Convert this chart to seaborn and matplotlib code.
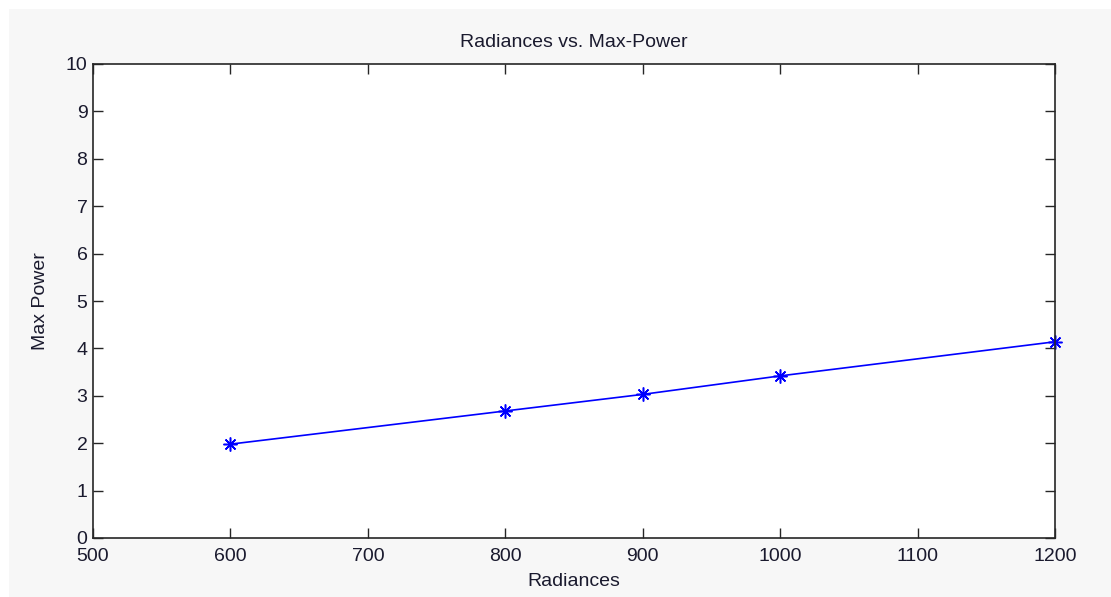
import numpy as np
import pandas as pd
import matplotlib
matplotlib.use("Agg")
import matplotlib.pyplot as plt
import seaborn as sb
from matplotlib.patches import Rectangle

radiances = [600, 800, 900, 1000, 1200]
max_power = [1.98, 2.68, 3.03, 3.42, 4.14]
x_ticks = [500, 600, 700, 800, 900, 1000, 1100, 1200]
y_ticks = list(range(0, 11))

sb.set_style("ticks")
plt.rcParams["font.family"] = ["Liberation Sans", "DejaVu Sans"]

t = pd.DataFrame({"Radiances": radiances, "Max Power": max_power})

fig = plt.figure(figsize=(11.11, 5.97), dpi=100, facecolor="white")
# grey panel like the matlab figure window
fig.patches.append(Rectangle((9 / 1111, 0), 1, 1 - 9 / 597, transform=fig.transFigure,
                             facecolor="#f7f7f7", edgecolor="none", zorder=-1))
ax = fig.add_axes([93 / 1111, 1 - 538 / 597, (1055 - 93) / 1111, (538 - 64) / 597])
ax.set_facecolor("white")

sb.lineplot(data=t, x="Radiances", y="Max Power", ax=ax, color="#0000ff",
            linewidth=1.2, marker=(8, 2, 0), markersize=10,
            markeredgecolor="#0000ff", markeredgewidth=1.1, clip_on=False)

ax.set_xlim(500, 1200)
ax.set_ylim(0, 10)
ax.set_xticks(x_ticks)
ax.set_yticks(y_ticks)
ax.tick_params(direction="in", length=7, width=1, top=True, right=True,
               labelsize=14, colors="#262626", labelcolor="#1a1a2e")
ax.tick_params(axis="x", pad=7)
ax.tick_params(axis="y", pad=4)
for s in ax.spines.values():
    s.set_visible(True)
    s.set_color("#262626")
    s.set_linewidth(1.2)

ax.set_title("Radiances vs. Max-Power", fontsize=14, color="#1a1a2e", pad=12)
ax.set_xlabel("Radiances", fontsize=14, color="#1a1a2e", labelpad=6)
ax.set_ylabel("Max Power", fontsize=14, color="#1a1a2e", labelpad=12)

fig.savefig("out.png", dpi=100, facecolor=fig.get_facecolor())
